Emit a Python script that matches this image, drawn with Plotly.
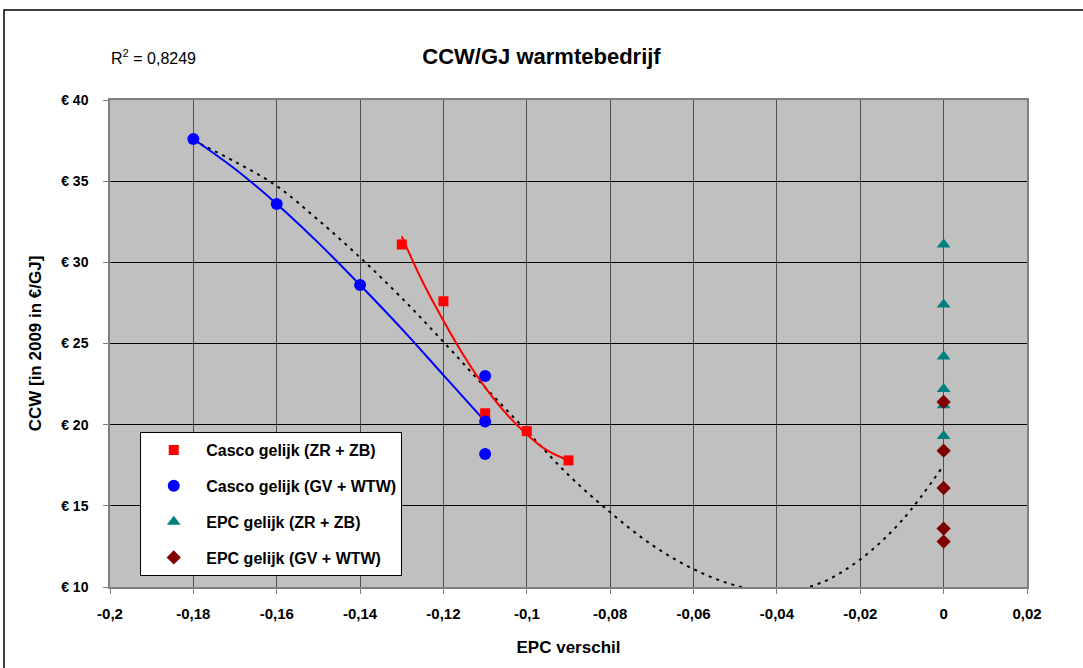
import plotly.graph_objects as go

# --- data ---
casco_zr_x = [-0.13, -0.12, -0.11, -0.10, -0.09]
casco_zr_y = [31.1, 27.6, 20.7, 19.6, 17.8]

casco_gv_x = [-0.18, -0.16, -0.14, -0.11, -0.11, -0.11]
casco_gv_y = [37.6, 33.6, 28.6, 20.2, 23.0, 18.2]

epc_zr_x = [0, 0, 0, 0, 0, 0]
epc_zr_y = [31.1, 27.4, 24.2, 22.2, 21.2, 19.3]

epc_gv_x = [0, 0, 0, 0, 0]
epc_gv_y = [21.4, 18.4, 16.1, 13.6, 12.8]

# fitted lines as drawn in the reference
red_fit_x = [-0.13, -0.125, -0.12, -0.115, -0.11, -0.105, -0.10, -0.095, -0.09]
red_fit_y = [31.6, 28.8, 26.4, 24.2, 22.3, 20.7, 19.4, 18.4, 17.8]

blue_fit_x = [-0.18, -0.17, -0.16, -0.15, -0.14, -0.13, -0.12, -0.11]
blue_fit_y = [37.6, 35.75, 33.6, 31.2, 28.6, 25.9, 23.05, 20.2]

trend_x = [-0.18, -0.17, -0.16, -0.15, -0.14, -0.13, -0.12, -0.11, -0.10, -0.09,
           -0.08, -0.07, -0.06, -0.05, -0.04, -0.03, -0.02, -0.01, 0.0]
trend_y = [37.5, 36.2, 34.7, 32.6, 30.3, 27.8, 25.1, 22.3, 19.6, 16.9,
           14.6, 12.6, 11.1, 10.1, 9.7, 10.2, 11.7, 14.1, 17.5]

x_ticks = [-0.2, -0.18, -0.16, -0.14, -0.12, -0.1, -0.08, -0.06, -0.04, -0.02, 0, 0.02]
x_labels = ["-0,2", "-0,18", "-0,16", "-0,14", "-0,12", "-0,1", "-0,08", "-0,06",
            "-0,04", "-0,02", "0", "0,02"]
y_ticks = [10, 15, 20, 25, 30, 35, 40]
y_labels = ["€ 10", "€ 15", "€ 20", "€ 25", "€ 30", "€ 35", "€ 40"]

FONT = "Liberation Sans, Arial, sans-serif"

fig = go.Figure()

fig.add_trace(go.Scatter(x=trend_x, y=trend_y, mode="lines", showlegend=False,
                         line=dict(color="black", width=2, dash="3px,5px", shape="spline")))
fig.add_trace(go.Scatter(x=blue_fit_x, y=blue_fit_y, mode="lines", showlegend=False,
                         line=dict(color="#0000ff", width=2, shape="spline")))
fig.add_trace(go.Scatter(x=red_fit_x, y=red_fit_y, mode="lines", showlegend=False,
                         line=dict(color="#ff0000", width=2, shape="spline")))

fig.add_trace(go.Scatter(x=casco_zr_x, y=casco_zr_y, mode="markers", name="<b>Casco gelijk (ZR + ZB)</b>",
                         legendgroup="a", marker=dict(symbol="square", size=10, color="#ff0000")))
fig.add_trace(go.Scatter(x=casco_gv_x, y=casco_gv_y, mode="markers", name="<b>Casco gelijk (GV + WTW)</b>",
                         legendgroup="b", marker=dict(symbol="circle", size=12, color="#0000ff")))
fig.add_trace(go.Scatter(x=epc_zr_x, y=epc_zr_y, mode="markers", name="<b>EPC gelijk (ZR + ZB)</b>",
                         legendgroup="c", marker=dict(symbol="triangle-up", size=12, color="#008080")))
fig.add_trace(go.Scatter(x=epc_gv_x, y=epc_gv_y, mode="markers", name="<b>EPC gelijk (GV + WTW)</b>",
                         legendgroup="d", marker=dict(symbol="diamond", size=11, color="#800000")))

fig.update_layout(
    width=1083, height=668,
    margin=dict(l=110, r=56, t=100, b=81),
    paper_bgcolor="white",
    plot_bgcolor="#c0c0c0",
    font=dict(family=FONT, size=14, color="black"),
    title=dict(text="<b>CCW/GJ warmtebedrijf</b>", x=0.5, xanchor="center",
               y=0.915, yanchor="middle", font=dict(size=22)),
    legend=dict(x=0.033, y=0.318, xanchor="left", yanchor="top",
                bgcolor="white", bordercolor="black", borderwidth=1,
                font=dict(size=16), traceorder="grouped", tracegroupgap=12,
                itemwidth=55),
    annotations=[dict(text="R<sup>2</sup> = 0,8249", xref="paper", yref="paper",
                      x=-0.001, y=1.088, xanchor="left", yanchor="middle",
                      showarrow=False, font=dict(size=16))],
    shapes=[dict(type="rect", xref="paper", yref="paper", x0=-0.1156, y0=-0.3,
                 x1=1.2, y1=1.1848, line=dict(color="black", width=1.5))],
)

fig.update_xaxes(range=[-0.2, 0.02], tickvals=x_ticks,
                 ticktext=[f"<b>{t}</b>" for t in x_labels],
                 showgrid=True, gridcolor="#505050", gridwidth=1,
                 showline=True, linecolor="#808080", linewidth=1.5, mirror=True,
                 ticks="outside", ticklen=5, tickcolor="#808080",
                 ticklabelstandoff=7,
                 zeroline=False, tickfont=dict(size=15, family=FONT),
                 title=dict(text="<b>EPC verschil</b>", font=dict(size=17), standoff=20))
fig.update_yaxes(range=[10, 40], tickvals=y_ticks,
                 ticktext=[f"<b>{t}</b>" for t in y_labels],
                 showgrid=True, gridcolor="black", gridwidth=1,
                 showline=True, linecolor="#808080", linewidth=1.5, mirror=True,
                 ticks="outside", ticklen=5, tickcolor="#808080",
                 ticklabelstandoff=12,
                 zeroline=False, tickfont=dict(size=14, family=FONT),
                 title=dict(text="<b>CCW [in 2009 in €/GJ]</b>", font=dict(size=17), standoff=15))

# the page is shot from its top-left corner, so drop the default body margin
fig.write_html("out.html", config={"displayModeBar": False},
               post_script="document.body.style.margin='0px';")
